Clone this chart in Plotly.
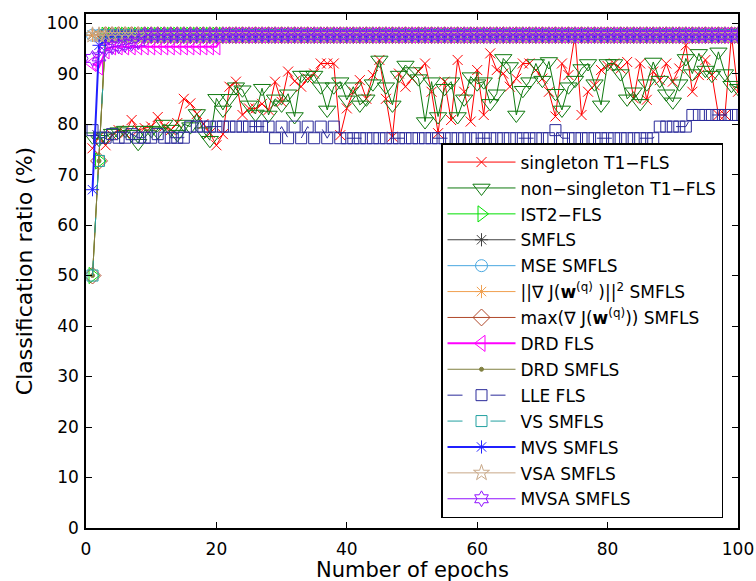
import plotly.graph_objects as go

epochs = list(range(1, 101))

# Classification ratio (%) per epoch for each learning scheme
singleton_t1 = [
    75.2, 77.5, 75.8, 77.8, 78.8, 78.2, 80.8, 78.8, 79.2, 79.5,
    81.4, 79.5, 78.8, 80.2, 85.0, 84.1, 82.0, 80.0, 78.2, 75.8,
    78.0, 87.4, 88.4, 81.8, 83.1, 83.1, 84.0, 82.8, 88.4, 84.4,
    90.4, 88.5, 87.4, 89.0, 90.0, 92.0, 92.0, 92.0, 77.8, 83.1,
    86.4, 88.7, 85.0, 89.7, 92.7, 85.0, 77.5, 90.0, 87.4, 89.0,
    90.4, 92.0, 86.4, 78.2, 88.4, 80.8, 92.7, 86.4, 80.5, 90.7,
    81.8, 94.0, 90.7, 90.0, 87.4, 89.0, 92.0, 92.0, 90.7, 89.0,
    86.4, 81.5, 92.0, 89.7, 97.6, 81.8, 86.4, 87.7, 90.7, 91.5,
    92.0, 91.0, 92.3, 85.1, 92.0, 84.8, 90.4, 88.7, 92.0, 88.4,
    91.0, 95.6, 86.4, 89.7, 92.7, 89.7, 81.8, 81.8, 97.6, 86.4,
]
non_singleton_t1 = [
    77.5, 77.0, 77.5, 78.2, 78.5, 78.8, 78.0, 76.2, 78.8, 78.8,
    78.5, 80.0, 79.0, 78.0, 80.0, 79.5, 82.1, 78.5, 76.8, 85.1,
    82.8, 85.1, 87.4, 86.8, 83.8, 82.0, 87.1, 81.8, 85.0, 83.8,
    86.0, 81.5, 89.7, 89.7, 89.7, 87.4, 82.8, 87.4, 88.4, 84.8,
    87.4, 83.8, 85.0, 88.0, 92.7, 87.4, 83.8, 89.7, 91.7, 90.4,
    89.0, 80.5, 88.4, 81.5, 87.1, 88.4, 81.5, 85.0, 89.4, 88.0,
    88.4, 84.1, 86.0, 93.0, 91.4, 81.8, 86.7, 88.4, 92.0, 88.7,
    92.4, 86.1, 82.8, 87.4, 88.7, 91.0, 92.0, 88.0, 83.8, 92.0,
    92.0, 90.0, 85.0, 86.4, 84.1, 88.0, 92.3, 88.7, 86.0, 84.4,
    88.0, 93.0, 90.0, 94.0, 90.7, 89.7, 94.3, 90.0, 87.7, 87.1,
]
lle_fls = (
    [78.8, 77.3, 77.3, 78.0, 77.3, 77.3, 78.0, 77.3, 77.3, 77.3,
     78.0, 77.3, 77.3, 77.3, 77.3]
    + [79.5] * 13
    + [77.2, 79.5, 77.2, 79.5, 77.2, 79.5, 77.2, 79.5, 77.2, 79.5]
    + [77.2] * 33
    + [78.8]
    + [77.2] * 15
    + [79.5] * 5
    + [81.8] * 8
)
ist2_fls = [50.0, 72.7] + [97.6] * 98
smfls = [97.6] * 100
mse_smfls = [97.6] * 100
grad_norm_smfls = [97.6] * 100
grad_max_smfls = [50.0, 72.7] + [97.6] * 98
drd_fls = [92.0, 91.3, 94.5] + [95.3] * 17 + [97.6] * 80
drd_smfls = [50.0, 72.7] + [97.6] * 98
vs_smfls = [50.0, 72.7] + [97.6] * 98
mvs_smfls = [67.0, 95.6, 96.6] + [97.6] * 97
vsa_smfls = [97.6] * 100
mvsa_smfls = [93.0, 93.3, 95.0, 95.3, 95.5, 95.8, 96.0, 96.3] + [97.6] * 92

x_ticks = [0, 20, 40, 60, 80, 100]
y_ticks = [0, 10, 20, 30, 40, 50, 60, 70, 80, 90, 100]

series = [
    ("singleton T1\u2212FLS", singleton_t1, "#ff0000", "x-thin-open", 10, 1, "solid"),
    ("non\u2212singleton T1\u2212FLS", non_singleton_t1, "#107a10", "triangle-down-open", 15, 1, "solid"),
    ("IST2\u2212FLS", ist2_fls, "#00e000", "triangle-right-open", 14, 1, "solid"),
    ("SMFLS", smfls, "#404040", "asterisk-open", 11, 1, "solid"),
    ("MSE SMFLS", mse_smfls, "#4aa8e0", "circle-open", 12, 1, "solid"),
    ("||\u2207 J(<b>w</b><sup>(q)</sup> )||<sup>2</sup> SMFLS", grad_norm_smfls, "#f0a050", "asterisk-open", 11, 1, "solid"),
    ("max(\u2207 J(<b>w</b><sup>(q)</sup>)) SMFLS", grad_max_smfls, "#b0482a", "diamond-open", 13, 1, "solid"),
    ("DRD FLS", drd_fls, "#ff00ff", "triangle-left-open", 14, 2, "solid"),
    ("DRD SMFLS", drd_smfls, "#808040", "circle", 4, 1, "solid"),
    ("LLE FLS", lle_fls, "#2a2a9a", "square-open", 11, 1, "15px,28px"),
    ("VS SMFLS", vs_smfls, "#22a0a0", "square-open", 11, 1, "15px,28px"),
    ("MVS SMFLS", mvs_smfls, "#2020ff", "asterisk-open", 11, 2, "solid"),
    ("VSA SMFLS", vsa_smfls, "#c8a888", "star-open", 12, 1, "solid"),
    ("MVSA SMFLS", mvsa_smfls, "#9010ff", "hexagram-open", 12, 1, "solid"),
]

fig = go.Figure()
for i, (name, vals, color, symbol, size, lw, dash) in enumerate(series):
    fig.add_trace(go.Scatter(
        x=epochs, y=vals, name=name, mode="lines+markers",
        legendgroup=f"g{i}",
        line=dict(color=color, width=lw, dash=dash),
        marker=dict(symbol=symbol, size=size, color=color,
                    line=dict(color=color, width=1)),
    ))

axis_common = dict(
    showline=True, linecolor="black", linewidth=1.5, mirror="ticks",
    ticks="inside", ticklen=6, tickcolor="black", tickwidth=1,
    showgrid=False, zeroline=False, automargin=False,
    tickfont=dict(family="DejaVu Sans", size=17, color="black"),
)

fig.update_xaxes(range=[0, 100], tickvals=x_ticks, ticklabelstandoff=5,
                 **axis_common)
fig.update_yaxes(range=[0, 101.8], tickvals=y_ticks, ticklabelstandoff=2,
                 title=dict(text="Classification ratio (%)", standoff=8,
                            font=dict(family="DejaVu Sans", size=22, color="black")),
                 **axis_common)

# x-axis title placed low in the bottom margin
fig.add_annotation(
    text="Number of epochs", xref="paper", yref="paper",
    x=0.5, y=0, yanchor="middle", yshift=-42, showarrow=False,
    font=dict(family="DejaVu Sans", size=21, color="black"),
)

fig.update_layout(
    width=756, height=581,
    margin=dict(l=86, r=18, t=14, b=53),
    paper_bgcolor="white", plot_bgcolor="white",
    showlegend=True,
    legend=dict(
        x=0.5445, y=0.749, xanchor="left", yanchor="top",
        bgcolor="white", bordercolor="black", borderwidth=1.5,
        font=dict(family="DejaVu Sans", size=17, color="black"),
        itemwidth=68, tracegroupgap=0.8,
    ),
)

fig.write_html("out.html")
